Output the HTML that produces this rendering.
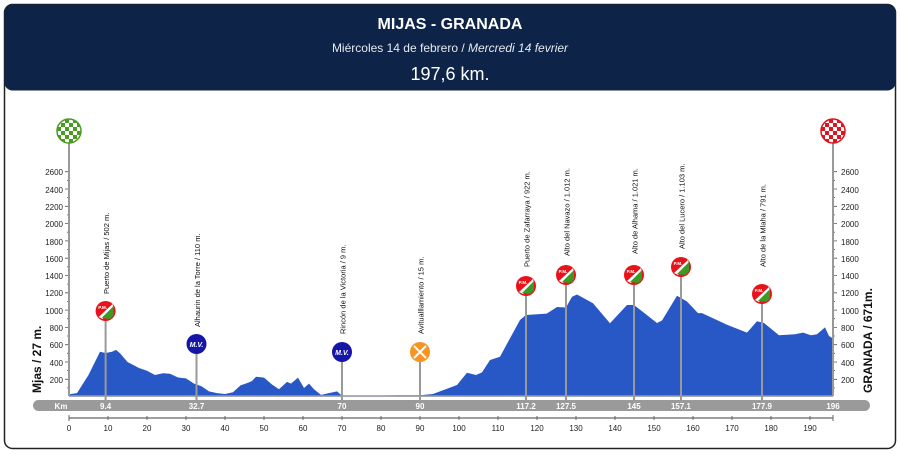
<!DOCTYPE html>
<html><head><meta charset="utf-8"><style>
body{margin:0;background:#fff;font-family:"Liberation Sans",sans-serif}
</style></head><body>
<svg width="900" height="453" viewBox="0 0 900 453" xmlns="http://www.w3.org/2000/svg" font-family="Liberation Sans, sans-serif">
<rect x="4.5" y="4.5" width="891" height="444" rx="8" fill="#fff" stroke="#222" stroke-width="1.5"/>
<rect x="4.5" y="4.5" width="891" height="86" rx="8" fill="#0d2448"/>
<text x="450" y="29" text-anchor="middle" fill="#fff" font-size="16" font-weight="bold">MIJAS - GRANADA</text>
<text x="450" y="52" text-anchor="middle" fill="#e6e9ef" font-size="12">Miércoles 14 de febrero / <tspan font-style="italic">Mercredi 14 fevrier</tspan></text>
<text x="450" y="80" text-anchor="middle" fill="#fff" font-size="18">197,6 km.</text>

<polygon fill="#2857c6" points="69,396.6 69,394.3 77,393.1 88.5,375 100,351.7 105.6,353 112,351.7 116,349.9 120,353.3 127.5,362 139,368 147,370.7 155,375 163,373.2 170,373.7 178,377.5 186,378.4 194,383.6 201.5,386.2 209,391.4 217,393.1 225,394 233,392.2 240.5,385.4 248,382.8 252,381 256,376.7 264,377.6 272,384.5 279,389.3 287,381.9 291,383.6 298,377.6 304,388 309,383.6 314,389.3 321,394.9 337,391.4 342,395.8 400,395.3 420,395.3 433,394 457,385 467,372.8 476,375 482,372.4 490,360 500,356.7 520,320 526,315 546.7,313.6 557,307 566,307.5 572,296.7 577,294.5 593,303.2 610,323.2 627,305 634,305 657,323 662,320.5 677,295.8 687,301.5 698,313.1 702,313.1 727,324.8 747,332.6 757,321.3 764,323 779,335.2 795,334.3 803,332.6 811,335.2 817,334.3 825,327.4 829,336 833,338.5 833,396.6"/>

<g font-size="8" fill="#222" text-anchor="end">
<text x="63" y="383">200</text><text x="63" y="366">400</text><text x="63" y="348">600</text><text x="63" y="331">800</text><text x="63" y="314">1000</text><text x="63" y="296">1200</text><text x="63" y="279">1400</text><text x="63" y="262">1600</text><text x="63" y="245">1800</text><text x="63" y="227">2000</text><text x="63" y="210">2200</text><text x="63" y="193">2400</text><text x="63" y="175">2600</text>
</g>
<g font-size="8" fill="#222">
<text x="841" y="383">200</text><text x="841" y="366">400</text><text x="841" y="348">600</text><text x="841" y="331">800</text><text x="841" y="314">1000</text><text x="841" y="296">1200</text><text x="841" y="279">1400</text><text x="841" y="262">1600</text><text x="841" y="245">1800</text><text x="841" y="227">2000</text><text x="841" y="210">2200</text><text x="841" y="193">2400</text><text x="841" y="175">2600</text>
</g>
<g stroke="#555" stroke-width="0.8">
<path d="M65,379.3H69M65,362H69M65,344.7H69M65,327.4H69M65,310.1H69M65,292.8H69M65,275.5H69M65,258.2H69M65,240.9H69M65,223.6H69M65,206.3H69M65,189H69M65,171.7H69"/>
<path d="M67,387.9H69M67,370.6H69M67,353.3H69M67,336H69M67,318.7H69M67,301.4H69M67,284.1H69M67,266.8H69M67,249.5H69M67,232.2H69M67,214.9H69M67,197.6H69M67,180.3H69"/>
<path d="M833,379.3H837M833,362H837M833,344.7H837M833,327.4H837M833,310.1H837M833,292.8H837M833,275.5H837M833,258.2H837M833,240.9H837M833,223.6H837M833,206.3H837M833,189H837M833,171.7H837"/>
<path d="M833,387.9H835M833,370.6H835M833,353.3H835M833,336H835M833,318.7H835M833,301.4H835M833,284.1H835M833,266.8H835M833,249.5H835M833,232.2H835M833,214.9H835M833,197.6H835M833,180.3H835"/>
</g>
<line x1="69" y1="396" x2="833" y2="396" stroke="#999" stroke-width="1.5"/>
<text transform="translate(41,393) rotate(-90)" font-size="12" font-weight="bold" fill="#111">Mjas / 27 m.</text>
<text transform="translate(872,393) rotate(-90)" font-size="12" font-weight="bold" fill="#111">GRANADA / 671m.</text>

<rect x="33" y="400" width="837" height="11" rx="5.5" fill="#9a9a9a"/>
<g font-size="8" font-weight="bold" fill="#fff" text-anchor="middle">
<text x="61" y="409">Km</text><text x="105.6" y="409">9.4</text><text x="196.5" y="409">32.7</text><text x="342" y="409">70</text><text x="420" y="409">90</text><text x="526" y="409">117.2</text><text x="566" y="409">127.5</text><text x="634" y="409">145</text><text x="681" y="409">157.1</text><text x="762" y="409">177.9</text><text x="833" y="409">196</text>
</g>

<line x1="69" y1="418" x2="833" y2="418" stroke="#666" stroke-width="1.2"/>
<g stroke="#666"><path d="M69,415V421M108,416V420M147,416V420M186,416V420M225,416V420M264,416V420M303,416V420M342,416V420M381,416V420M420,416V420M459,416V420M498,416V420M537,416V420M576,416V420M615,416V420M654,416V420M693,416V420M732,416V420M771,416V420M810,416V420M833,415V421"/></g>
<g font-size="8" fill="#222" text-anchor="middle">
<text x="69" y="431">0</text><text x="108" y="431">10</text><text x="147" y="431">20</text><text x="186" y="431">30</text><text x="225" y="431">40</text><text x="264" y="431">50</text><text x="303" y="431">60</text><text x="342" y="431">70</text><text x="381" y="431">80</text><text x="420" y="431">90</text><text x="459" y="431">100</text><text x="498" y="431">110</text><text x="537" y="431">120</text><text x="576" y="431">130</text><text x="615" y="431">140</text><text x="654" y="431">150</text><text x="693" y="431">160</text><text x="732" y="431">170</text><text x="771" y="431">180</text><text x="810" y="431">190</text>
</g>

<g stroke="#999" stroke-width="2">
<line x1="69" y1="131" x2="69" y2="396"/><line x1="833" y1="131" x2="833" y2="396"/>
<line x1="105.6" y1="311" x2="105.6" y2="400"/><line x1="196.5" y1="344" x2="196.5" y2="400"/>
<line x1="342" y1="352" x2="342" y2="400"/><line x1="420" y1="352" x2="420" y2="400"/>
<line x1="526" y1="286" x2="526" y2="400"/><line x1="566" y1="275" x2="566" y2="400"/>
<line x1="634" y1="275" x2="634" y2="400"/><line x1="681" y1="267" x2="681" y2="400"/>
<line x1="762" y1="294" x2="762" y2="400"/>
</g>

<defs>
<pattern id="chkg" width="8" height="8" patternUnits="userSpaceOnUse" x="57" y="119"><rect width="8" height="8" fill="#fff"/><rect width="4" height="4" fill="#4a9d20"/><rect x="4" y="4" width="4" height="4" fill="#4a9d20"/></pattern>
<pattern id="chkr" width="8" height="8" patternUnits="userSpaceOnUse" x="821" y="119"><rect width="8" height="8" fill="#fff"/><rect width="4" height="4" fill="#e0141e"/><rect x="4" y="4" width="4" height="4" fill="#e0141e"/></pattern>
<g id="pm"><circle r="10" fill="#e8121b"/><path d="M-7,6 L7,-7 L8,-3 L-3,8Z" fill="#fff"/><path d="M-4,7 L8,-5 L8,4 A10,10 0 0 1 4,8Z" fill="#3a9a22"/><text x="-3" y="-2" font-size="4.5" font-weight="bold" fill="#fff" text-anchor="middle">P.M.</text></g>
</defs>
<circle cx="69" cy="131" r="12" fill="url(#chkg)" stroke="#4a9d20" stroke-width="1.5"/>
<circle cx="833" cy="131" r="12" fill="url(#chkr)" stroke="#e0141e" stroke-width="1.5"/>
<use href="#pm" x="105.6" y="311"/><use href="#pm" x="526" y="286"/><use href="#pm" x="566" y="275"/><use href="#pm" x="634" y="275"/><use href="#pm" x="681" y="267"/><use href="#pm" x="762" y="294"/>
<circle cx="196.5" cy="344" r="10" fill="#1515a8"/><text x="196.5" y="347" font-size="7" font-weight="bold" font-style="italic" fill="#fff" text-anchor="middle">M.V.</text>
<circle cx="342" cy="352" r="10" fill="#1515a8"/><text x="342" y="355" font-size="7" font-weight="bold" font-style="italic" fill="#fff" text-anchor="middle">M.V.</text>
<circle cx="420" cy="352" r="10" fill="#f7931e"/><path d="M414,346L426,358M426,346L414,358" stroke="#fff" stroke-width="2"/>

<g font-size="7.5" fill="#111">
<text transform="translate(109,294) rotate(-90)">Puerto de Mijas / 502 m.</text>
<text transform="translate(200,327) rotate(-90)">Alhaurin de la Torre / 110 m.</text>
<text transform="translate(345.5,334) rotate(-90)">Rincón de la Victoria / 9 m.</text>
<text transform="translate(423.5,334) rotate(-90)">Avitualllamiento / 15 m.</text>
<text transform="translate(529.5,267) rotate(-90)">Puerto de Zafarraya / 922 m.</text>
<text transform="translate(569.5,256) rotate(-90)">Alto del Navazo / 1.012 m.</text>
<text transform="translate(637.5,254) rotate(-90)">Alto de Alhama / 1.021 m.</text>
<text transform="translate(684.5,249) rotate(-90)">Alto del Lucero / 1.103 m.</text>
<text transform="translate(765.5,267) rotate(-90)">Alto de la Mlaha /  791 m.</text>
</g>
</svg>
</body></html>
